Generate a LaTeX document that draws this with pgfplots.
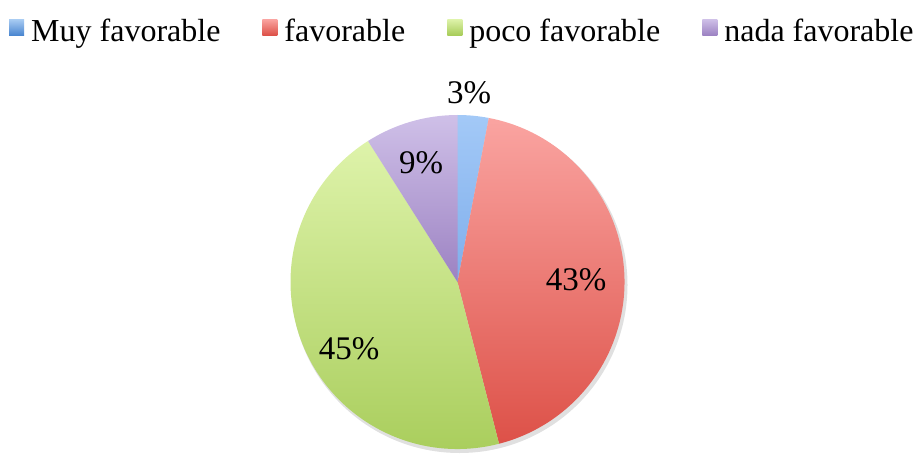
\documentclass[border=0pt]{standalone}
\usepackage{fontspec}
\setmainfont{Liberation Serif}
\usepackage{pgfplots}
\pgfplotsset{compat=1.18}
\definecolor{bT}{HTML}{A3C9F7}
\definecolor{bB}{HTML}{7FAEEB}
\definecolor{bLT}{HTML}{A9CCF3}
\definecolor{bLB}{HTML}{4A86D0}
\definecolor{rT}{HTML}{FAA4A1}
\definecolor{rB}{HTML}{DD5148}
\definecolor{gT}{HTML}{DEF3AA}
\definecolor{gB}{HTML}{A7CC59}
\definecolor{pT}{HTML}{CFC0E8}
\definecolor{pB}{HTML}{9C82C2}
\begin{document}
\begin{tikzpicture}
\begin{axis}[
  scale only axis, width=920pt, height=453pt,
  xmin=0, xmax=920, ymin=0, ymax=453,
  hide axis, clip=false,
  legend columns=4,
  legend style={at={(axis cs:6,438)}, anchor=north west, draw=none, fill=none,
    font=\fontsize{32}{38}\selectfont,
    /tikz/every odd column/.append style={column sep=5pt},
    /tikz/every even column/.append style={column sep=40pt}},
]
\addlegendimage{legend image code/.code={\shade[draw=none,top color=bLT,bottom color=bLB] (0pt,-4pt) rectangle (15pt,12pt);}}
\addlegendentry{Muy favorable}
\addlegendimage{legend image code/.code={\shade[draw=none,top color=rT,bottom color=rB] (0pt,-4pt) rectangle (15pt,12pt);}}
\addlegendentry{favorable}
\addlegendimage{legend image code/.code={\shade[draw=none,top color=gT,bottom color=gB] (0pt,-4pt) rectangle (15pt,12pt);}}
\addlegendentry{poco favorable}
\addlegendimage{legend image code/.code={\shade[draw=none,top color=pT,bottom color=pB] (0pt,-4pt) rectangle (15pt,12pt);}}
\addlegendentry{nada favorable}
% shadow
\fill[black,opacity=0.12] (axis cs:459.5,168) circle[radius=168pt];
% slices: 3, 43, 45, 9 percent, clockwise from top
\shade[top color=bT,bottom color=bB] (axis cs:457.5,171) -- ++(90:167pt) arc[start angle=90,end angle={90-3*3.6},radius=167pt] -- cycle;
\shade[top color=rT,bottom color=rB] (axis cs:457.5,171) -- ++({90-3*3.6}:167pt) arc[start angle={90-3*3.6},end angle={90-46*3.6},radius=167pt] -- cycle;
\shade[top color=gT,bottom color=gB] (axis cs:457.5,171) -- ++({90-46*3.6}:167pt) arc[start angle={90-46*3.6},end angle={90-91*3.6},radius=167pt] -- cycle;
\shade[top color=pT,bottom color=pB] (axis cs:457.5,171) -- ++({90-91*3.6}:167pt) arc[start angle={90-91*3.6},end angle={90-100*3.6},radius=167pt] -- cycle;
\node[font=\fontsize{33}{38}\selectfont] at (axis cs:469,360.5) {3\%};
\node[font=\fontsize{33}{38}\selectfont] at (axis cs:576,173) {43\%};
\node[font=\fontsize{33}{38}\selectfont] at (axis cs:349,104) {45\%};
\node[font=\fontsize{33}{38}\selectfont] at (axis cs:421,290) {9\%};
\end{axis}
\pgfresetboundingbox
\path[use as bounding box] (current axis.south west) rectangle (current axis.north east);
\end{tikzpicture}
\end{document}
